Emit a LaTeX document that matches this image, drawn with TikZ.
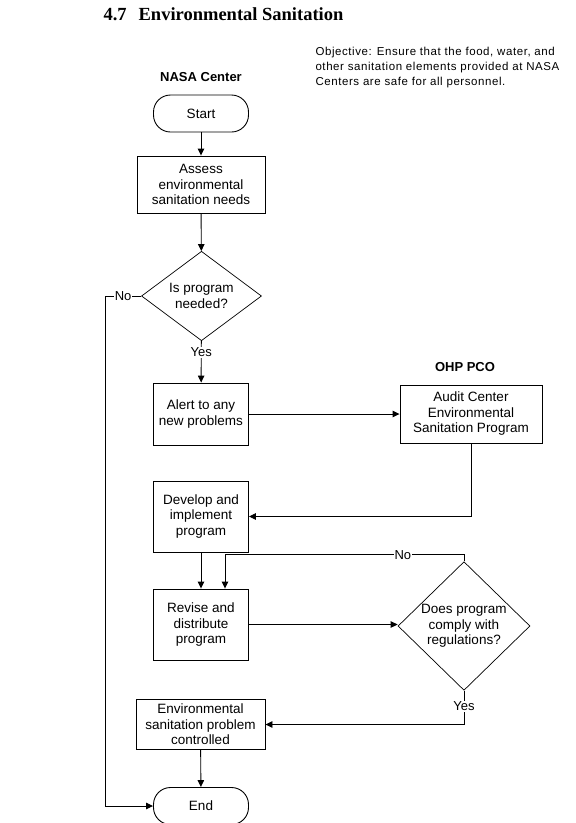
\documentclass[tikz,border=0pt]{standalone}
\usepackage{fontspec}
\setmainfont{Liberation Sans}
\newfontfamily\titlefont{Liberation Serif}
\usetikzlibrary{arrows.meta,shapes.geometric}
\begin{document}
\begin{tikzpicture}[x=1pt,y=-1pt,
        every node/.style={font=\fontsize{13.5}{15.5}\selectfont},
        box/.style={draw,line width=0.9pt,align=center,inner sep=0pt},
        term/.style={box,rounded corners=17pt},
        choice/.style={draw,diamond,line width=0.7pt,align=center,inner sep=0pt},
        head/.style={font=\bfseries\fontsize{13}{15}\selectfont},
        tag/.style={fill=white,inner sep=1pt,font=\fontsize{13}{15}\selectfont},
        flow/.style={-{Triangle[length=7pt,width=6.5pt]},line width=0.9pt}]
        \useasboundingbox (0,0) rectangle (576,823);
        \node[anchor=base west,font=\titlefont\bfseries\fontsize{18.5}{20}\selectfont] (title) at (100,20) {4.7\hspace{12pt}Environmental Sanitation};
        \node[anchor=base west,align=left,font=\addfontfeature{LetterSpace=5}\fontsize{11.5}{15}\selectfont] (goal) at (312,85) {Objective: Ensure that the food, water, and\\other sanitation elements provided at NASA\\Centers are safe for all personnel.};
        \node[head] (nasa) at (201,77) {NASA Center};
        \node[head] (ohp) at (465,367) {OHP PCO};
        \node[term,minimum width=95,minimum height=37] (start) at (201,113.5) {Start};
        \node[box,minimum width=128,minimum height=57] (assess) at (201,184.5) {Assess\\environmental\\sanitation needs};
        \node[choice,minimum width=120,minimum height=88] (need) at (201.5,296) {Is program\\needed?};
        \node[box,minimum width=95,minimum height=62] (alert) at (201,414) {Alert to any\\new problems};
        \node[box,minimum width=142,minimum height=58] (audit) at (471,414) {Audit Center\\Environmental\\Sanitation Program};
        \node[box,minimum width=95,minimum height=71] (develop) at (201,516.5) {Develop and\\implement\\program};
        \node[box,minimum width=95,minimum height=71] (revise) at (201,624.5) {Revise and\\distribute\\program};
        \node[choice,minimum width=132,minimum height=122] (comply) at (464,626) {Does program\\comply with\\regulations?};
        \node[box,minimum width=129,minimum height=50] (env) at (200.5,724.5) {Environmental\\sanitation problem\\controlled};
        \node[term,minimum width=95,minimum height=37] (end) at (201,806) {End};
        \draw[flow] (start) -- (assess);
        \draw[flow] (assess) -- (need);
        \draw[flow] (need) -- node[tag,pos=0.27] (yes1) {Yes} (alert);
        \draw[flow] (alert.east) -- (alert.east -| audit.west);
        \draw[flow] (audit.south) |- (develop.east);
        \draw[flow] (develop) -- (revise);
        \draw[flow] (revise.east) -- (revise.east -| comply.west);
        \draw[flow] (comply.north) -- ++(0,-6.5) -| node[tag,pos=0.128] (no2) {No} ([xshift=24pt]revise.north);
        \draw[flow] (comply.south) |- node[tag,pos=0.23] (yes2) {Yes} (env.east);
        \draw[flow] (env) -- (end);
        \draw[flow] (need.west) -- node[tag] (no1) {No} ++(-36,0) |- (end.west);
    \end{tikzpicture}
\end{document}
